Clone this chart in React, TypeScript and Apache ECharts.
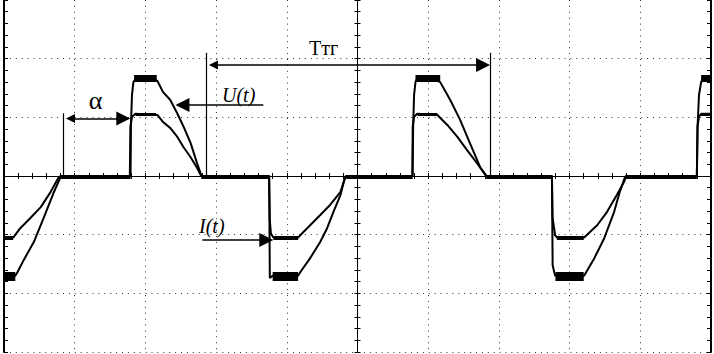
import React, { useEffect, useRef } from "react";
import * as echarts from "echarts";

// Oscilloscope screen: 10 horizontal divisions x 6 vertical divisions
const X_MIN = -5;
const X_MAX = 5;
const Y_MIN = -3;
const Y_MAX = 3;

// U(t) trace, [time (div), value (div)]
const uTrace: [number, number][] = [
  [-5.0, -1.7], [-4.84, -1.7], [-4.81, -1.64], [-4.72, -1.43], [-4.58, -1.13], [-4.44, -0.72], [-4.3, -0.29], [-4.2, -0.02], [-4.18, 0],
  [-3.21, 0], [-3.205, 0.84], [-3.19, 1.38], [-3.17, 1.6], [-3.12, 1.68], [-2.98, 1.7], [-2.83, 1.62],
  [-2.75, 1.43], [-2.65, 1.3], [-2.55, 1.07], [-2.46, 0.84], [-2.36, 0.56], [-2.27, 0.22], [-2.22, 0.05], [-2.21, 0],
  [-1.25, 0], [-1.24, -1.74], [-1.2, -1.7], [-0.84, -1.7],
  [-0.81, -1.64], [-0.67, -1.4], [-0.53, -1.13], [-0.43, -0.89], [-0.34, -0.61], [-0.24, -0.32], [-0.185, -0.06], [-0.16, 0],
  [0.78, 0], [0.787, 0.84], [0.8, 1.38], [0.82, 1.6], [0.85, 1.68], [1.0, 1.7], [1.17, 1.6],
  [1.31, 1.3], [1.45, 0.96], [1.59, 0.56], [1.735, 0.15], [1.81, 0.02], [1.82, 0],
  [2.75, 0], [2.76, -1.52], [2.795, -1.7], [3.205, -1.7],
  [3.35, -1.4], [3.49, -1.06], [3.63, -0.61], [3.71, -0.27], [3.78, -0.03], [3.8, 0],
  [4.8, 0], [4.81, 0.84], [4.83, 1.38], [4.86, 1.6], [4.9, 1.68], [5.0, 1.7],
];

// I(t) trace
const iTrace: [number, number][] = [
  [-5.0, -1.05], [-4.87, -1.05], [-4.77, -0.89], [-4.63, -0.72], [-4.48, -0.53], [-4.34, -0.27], [-4.23, -0.03], [-4.2, 0],
  [-3.22, 0], [-3.212, 0.84], [-3.19, 1.01], [-3.14, 1.06], [-2.83, 1.04],
  [-2.75, 0.92], [-2.65, 0.82], [-2.55, 0.67], [-2.46, 0.49], [-2.36, 0.32], [-2.27, 0.14], [-2.22, 0.02], [-2.21, 0],
  [-1.25, 0], [-1.24, -0.75], [-1.225, -0.98], [-1.19, -1.05], [-0.84, -1.05],
  [-0.81, -1.01], [-0.67, -0.84], [-0.53, -0.67], [-0.385, -0.49], [-0.24, -0.27], [-0.19, -0.08], [-0.16, 0],
  [0.775, 0], [0.781, 0.84], [0.8, 1.01], [0.845, 1.06], [1.13, 1.04],
  [1.27, 0.87], [1.41, 0.67], [1.55, 0.44], [1.69, 0.22], [1.81, 0.02], [1.82, 0],
  [2.75, 0], [2.76, -0.72], [2.795, -1.01], [2.824, -1.05], [3.205, -1.05],
  [3.39, -0.84], [3.53, -0.61], [3.67, -0.32], [3.77, -0.1], [3.8, 0],
  [4.8, 0], [4.809, 0.84], [4.83, 1.01], [4.86, 1.06], [5.0, 1.06],
];

// noisy stretches of the traces: [start, end] in div, with their level
type Seg = [number, number];
const zeroNoise: Seg[] = [[-4.2, -3.21], [-2.21, -1.25], [-0.16, 0.78], [1.82, 2.75], [3.8, 4.8]];
const ZERO_NOISE_LEVEL = -0.01;
const uPosNoise: Seg[] = [[-3.16, -2.84], [0.82, 1.17], [4.86, 5.0]];
const U_POS_LEVEL = 1.67;
const uNegNoise: Seg[] = [[-5.0, -4.84], [-1.2, -0.84], [2.8, 3.2]];
const U_NEG_LEVEL = -1.71;
const iPosNoise: Seg[] = [[-3.14, -2.85], [0.85, 1.13], [4.86, 5.0]];
const I_POS_LEVEL = 1.06;
const iNegNoise: Seg[] = [[-5.0, -4.87], [-1.19, -0.84], [2.82, 3.2]];
const I_NEG_LEVEL = -1.05;

// annotation markers (div)
const alphaSpan: Seg = [-4.159, -3.212];
const ALPHA_Y = 0.98;
const ALPHA_MARK_TOP = 1.07;
const periodSpan: Seg = [-2.138, 1.876];
const PERIOD_Y = 1.89;
const PERIOD_MARK_TOP = 2.1;
const uArrow: Seg = [-1.332, -2.576];
const U_ARROW_Y = 1.21;
const iArrow: Seg = [-2.194, -1.19];
const I_ARROW_Y = -1.09;
const HEAD = 0.1;

const FONT = '"Liberation Serif", "DejaVu Serif", serif';
const DOT: number[] = [1, 4.9];

const bandLines = (segs: Seg[], level: number, width: number) =>
  segs.map(([a, b]) => ({ coords: [[a, level], [b, level]], lineStyle: { width } }));

export default function App() {
  const ref = useRef<HTMLDivElement>(null);
  useEffect(() => {
    if (!ref.current) return;
    const chart = echarts.init(ref.current, undefined, { renderer: "svg" });
    const tickStyle = { color: "#000", width: 1 };
    const hidden = { show: false };
    const baseX = { type: "value", min: X_MIN, max: X_MAX, interval: 1, axisLabel: hidden };
    const baseY = { type: "value", min: Y_MIN, max: Y_MAX, interval: 1, axisLabel: hidden };
    const centerX = (position: string) => ({
      ...baseX,
      position,
      axisLine: { show: true, onZero: true, onZeroAxisIndex: 0, lineStyle: { color: "#000", width: 1 } },
      axisTick: { show: true, length: 3, lineStyle: tickStyle },
      minorTick: { show: true, splitNumber: 5, length: 3, lineStyle: tickStyle },
      splitLine: hidden,
    });
    const centerY = (position: string) => ({
      ...baseY,
      position,
      axisLine: { show: true, onZero: true, onZeroAxisIndex: 0, lineStyle: { color: "#000", width: 1 } },
      axisTick: { show: true, length: 3, lineStyle: tickStyle },
      minorTick: { show: true, splitNumber: 5, length: 3, lineStyle: tickStyle },
      splitLine: hidden,
    });
    const borderY = (position: string, split: boolean) => ({
      ...baseY,
      position,
      axisLine: { show: true, onZero: false, lineStyle: { color: "#000", width: 2 } },
      axisTick: { show: true, inside: true, length: 4, lineStyle: tickStyle },
      minorTick: { show: true, splitNumber: 5, length: 4, lineStyle: tickStyle },
      splitLine: split
        ? { show: true, showMaxLine: false, lineStyle: { type: DOT, color: "#333", width: 1 } }
        : hidden,
    });
    const trace = (name: string, data: [number, number][]) => ({
      name,
      type: "line",
      xAxisIndex: 0,
      yAxisIndex: 0,
      data,
      symbol: "none",
      lineStyle: { color: "#000", width: 2 },
      z: 5,
    });
    const lines = (name: string, data: any[], symbol: any, width: number) => ({
      name,
      type: "lines",
      coordinateSystem: "cartesian2d",
      xAxisIndex: 0,
      yAxisIndex: 0,
      data,
      symbol,
      symbolSize: [9, 14],
      lineStyle: { color: "#000", width, opacity: 1 },
      itemStyle: { color: "#000" },
      z: 6,
    });
    chart.setOption({
      animation: false,
      backgroundColor: "#fff",
      grid: { left: 4, right: 3, top: 0, bottom: 2, containLabel: false },
      xAxis: [
        {
          ...baseX,
          position: "bottom",
          axisLine: { show: false, onZero: false },
          axisTick: hidden,
          splitLine: { show: true, lineStyle: { type: DOT, color: "#333", width: 1 } },
        },
        centerX("bottom"),
        centerX("top"),
      ],
      yAxis: [borderY("left", true), borderY("right", false), centerY("left"), centerY("right")],
      series: [
        trace("U(t)", uTrace),
        trace("I(t)", iTrace),
        lines("zero noise", bandLines(zeroNoise, ZERO_NOISE_LEVEL, 4), "none", 4),
        lines(
          "plateau noise",
          [
            ...bandLines(uPosNoise, U_POS_LEVEL, 7),
            ...bandLines(uNegNoise, U_NEG_LEVEL, 9),
            ...bandLines(iPosNoise, I_POS_LEVEL, 3),
            ...bandLines(iNegNoise, I_NEG_LEVEL, 4),
          ],
          "none",
          4
        ),
        lines(
          "markers",
          [
            { coords: [[alphaSpan[0], 0], [alphaSpan[0], ALPHA_MARK_TOP]] },
            { coords: [[periodSpan[0], 0], [periodSpan[0], PERIOD_MARK_TOP]] },
            { coords: [[periodSpan[1], 0], [periodSpan[1], PERIOD_MARK_TOP]] },
          ],
          "none",
          1.2
        ),
        lines(
          "double arrows",
          [
            { coords: [[alphaSpan[0] + HEAD, ALPHA_Y], [alphaSpan[1] - HEAD, ALPHA_Y]] },
            { coords: [[periodSpan[0] + HEAD, PERIOD_Y], [periodSpan[1] - HEAD, PERIOD_Y]] },
          ],
          ["triangle", "triangle"],
          1.5
        ),
        lines(
          "label arrows",
          [
            { coords: [[uArrow[0], U_ARROW_Y], [uArrow[1] + HEAD, U_ARROW_Y]] },
            { coords: [[iArrow[0], I_ARROW_Y], [iArrow[1] - HEAD, I_ARROW_Y]] },
          ],
          ["none", "triangle"],
          1.5
        ),
      ],
      graphic: [
        {
          type: "text",
          x: 95.5,
          y: 100,
          style: { text: "α", fontSize: 26, fontFamily: FONT, fill: "#000", align: "center", verticalAlign: "middle" },
        },
        {
          type: "text",
          x: 309,
          y: 48,
          style: { text: "Tтг", fontSize: 20, fontFamily: FONT, fill: "#000", align: "left", verticalAlign: "middle" },
        },
        {
          type: "text",
          x: 222,
          y: 95,
          style: { text: "U(t)", fontSize: 20, fontStyle: "italic", fontFamily: FONT, fill: "#000", align: "left", verticalAlign: "middle" },
        },
        {
          type: "text",
          x: 199,
          y: 226,
          style: { text: "I(t)", fontSize: 20, fontStyle: "italic", fontFamily: FONT, fill: "#000", align: "left", verticalAlign: "middle" },
        },
      ],
    });
    return () => chart.dispose();
  }, []);
  return <div ref={ref} style={{ position: "absolute", left: 0, top: 0, width: 714, height: 354 }} />;
}
